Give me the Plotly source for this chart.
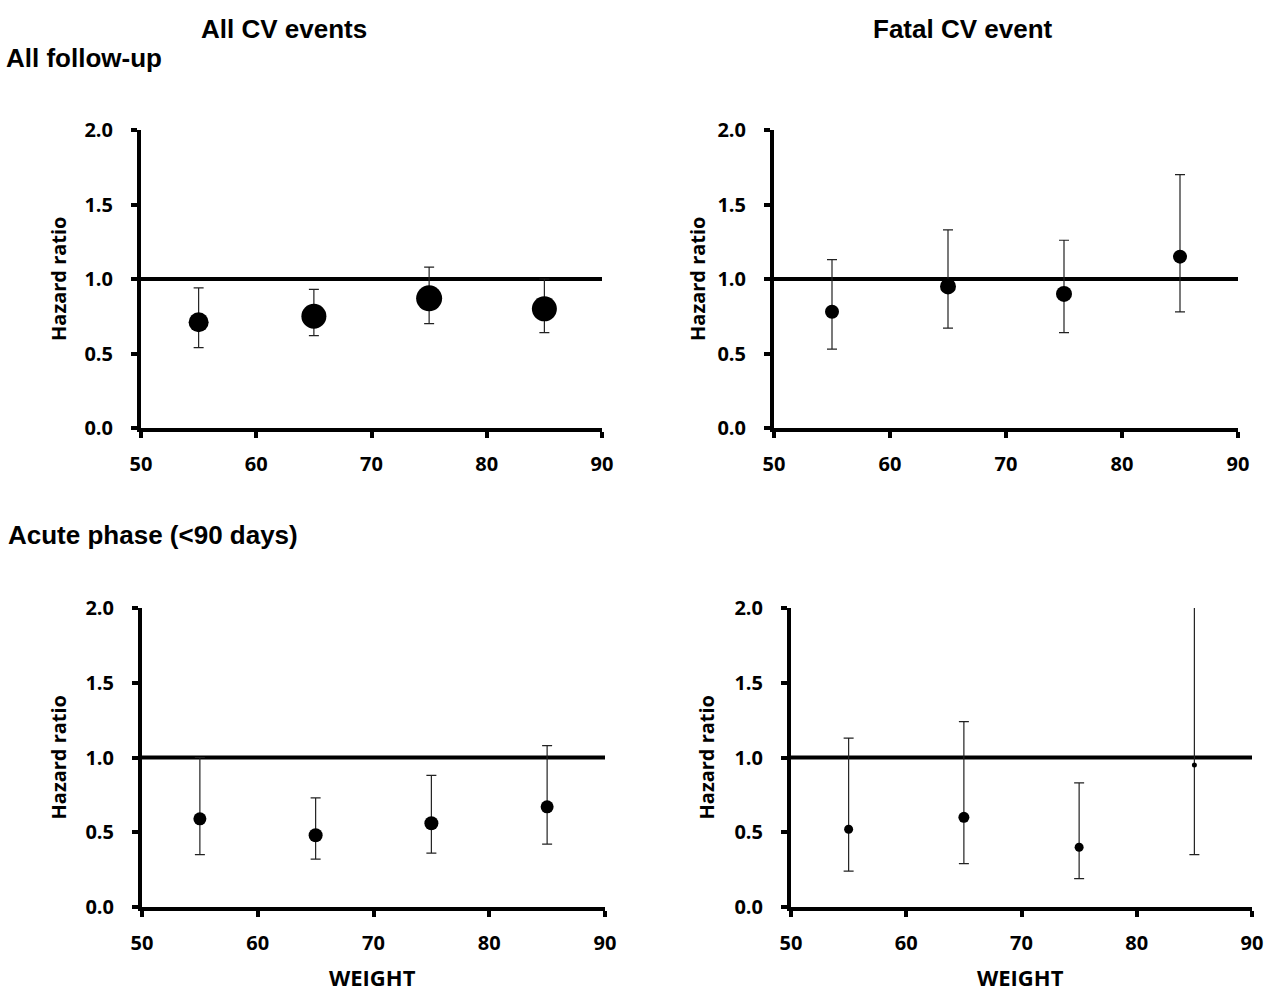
import plotly.graph_objects as go

weights = [55, 65, 75, 85]

# All CV events, all follow-up
hr_all_fu = [0.71, 0.75, 0.87, 0.80]
lo_all_fu = [0.54, 0.62, 0.70, 0.64]
hi_all_fu = [0.94, 0.93, 1.08, 1.00]
sz_all_fu = [20, 25, 26, 25]

# Fatal CV event, all follow-up
hr_fat_fu = [0.78, 0.95, 0.90, 1.15]
lo_fat_fu = [0.53, 0.67, 0.64, 0.78]
hi_fat_fu = [1.13, 1.33, 1.26, 1.70]
sz_fat_fu = [14, 16, 16, 14]

# All CV events, acute phase
hr_all_ac = [0.59, 0.48, 0.56, 0.67]
lo_all_ac = [0.35, 0.32, 0.36, 0.42]
hi_all_ac = [1.00, 0.73, 0.88, 1.08]
sz_all_ac = [13, 14, 14, 13]

# Fatal CV event, acute phase
hr_fat_ac = [0.52, 0.60, 0.40, 0.95]
lo_fat_ac = [0.24, 0.29, 0.19, 0.35]
hi_fat_ac = [1.13, 1.24, 0.83, 2.40]
sz_fat_ac = [9, 11, 9, 5]

x_ticks = [50, 60, 70, 80, 90]
y_ticks = [0.0, 0.5, 1.0, 1.5, 2.0]

W, H = 1268, 994


def px(v):
    return v / W


def py(v):
    return 1 - v / H


panels = [
    # (hr, lo, hi, sz, x50px, x90px, y2px, y0px, hazard-label x)
    (hr_all_fu, lo_all_fu, hi_all_fu, sz_all_fu, 141, 602, 130, 428, 58),
    (hr_fat_fu, lo_fat_fu, hi_fat_fu, sz_fat_fu, 774, 1238, 130, 428, 697),
    (hr_all_ac, lo_all_ac, hi_all_ac, sz_all_ac, 142, 605, 608, 907, 58),
    (hr_fat_ac, lo_fat_ac, hi_fat_ac, sz_fat_ac, 791, 1252, 608, 907, 706),
]

fig = go.Figure()
tickfont = dict(family="Open Sans", size=20, color="black", weight=700)
annotations = []
for i, (hr, lo, hi, sz, x0, x1, yt, yb, hx) in enumerate(panels):
    n = "" if i == 0 else str(i + 1)
    xa, ya = "x" + n, "y" + n
    fig.add_trace(go.Scatter(x=[50, 90], y=[1, 1], mode="lines",
                             line=dict(color="black", width=4),
                             xaxis=xa, yaxis=ya, showlegend=False, hoverinfo="skip"))
    fig.add_trace(go.Scatter(
        x=weights, y=hr, mode="markers",
        marker=dict(color="black", size=sz, opacity=1, line=dict(width=0)),
        error_y=dict(type="data", symmetric=False,
                     array=[h - v for h, v in zip(hi, hr)],
                     arrayminus=[v - l for v, l in zip(hr, lo)],
                     thickness=1.2, width=5, color="#222222"),
        xaxis=xa, yaxis=ya, showlegend=False))
    common = dict(showline=True, linewidth=4, linecolor="black", ticks="outside",
                  ticklen=6, tickwidth=4, tickcolor="black", showgrid=False,
                  zeroline=False, tickfont=tickfont, automargin=False)
    fig.layout["xaxis" + n] = dict(domain=[px(x0), px(x1)], range=[50, 90],
                                   tickvals=x_ticks, anchor=ya, ticklabelstandoff=9,
                                   **common)
    fig.layout["yaxis" + n] = dict(domain=[py(yb), py(yt)], range=[0, 2],
                                   tickvals=y_ticks, tickformat=".1f", anchor=xa,
                                   ticklabelstandoff=14, **common)
    annotations.append(dict(text="Hazard ratio", x=px(hx), y=py((yt + yb) / 2),
                            xref="paper", yref="paper", textangle=-90, showarrow=False,
                            font=dict(family="Open Sans", size=20, color="black", weight=700),
                            xanchor="center", yanchor="middle"))

titlefont = dict(family="Liberation Sans", size=26, color="black", weight="bold")
for txt, x, y, xa in [("All CV events", 284, 29, "center"),
                      ("Fatal CV event", 963, 29, "center"),
                      ("All follow-up", 4, 58, "left"),
                      ("Acute phase (<90 days)", 6, 535, "left")]:
    annotations.append(dict(text=txt, x=px(x), y=py(y), xref="paper", yref="paper",
                            showarrow=False, font=titlefont, xanchor=xa, yanchor="middle"))
for x in [372, 1020]:
    annotations.append(dict(text="WEIGHT", x=px(x), y=py(993), xref="paper", yref="paper",
                            showarrow=False, borderpad=0,
                            font=dict(family="Open Sans", size=22, color="black", weight=700),
                            xanchor="center", yanchor="bottom"))

fig.update_layout(width=W, height=H,
                  margin=dict(l=0, r=0, t=0, b=0, pad=0, autoexpand=False),
                  plot_bgcolor="white", paper_bgcolor="white",
                  annotations=annotations)
fig.write_html("out.html")
